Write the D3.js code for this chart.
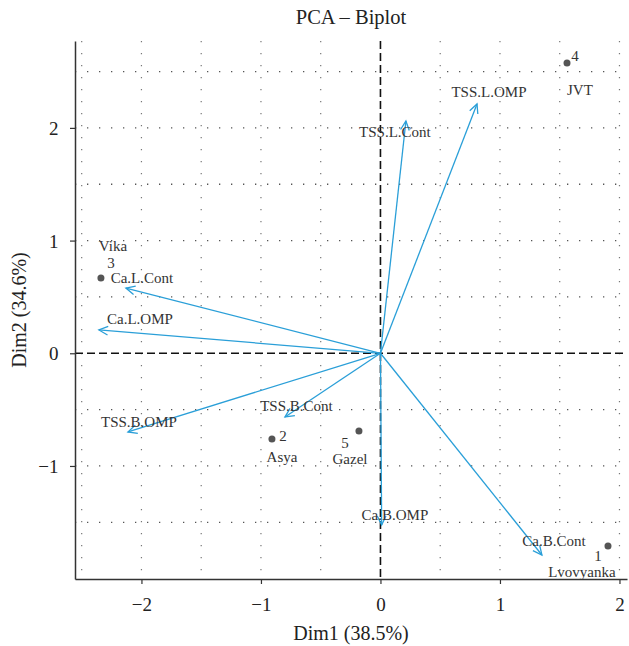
<!DOCTYPE html>
<html>
<head>
<meta charset="utf-8">
<script src="https://cdn.jsdelivr.net/npm/d3@7"></script>
<style>
  body { margin: 0; background: #fff; }
  text { font-family: "Liberation Serif", "DejaVu Serif", serif; }
</style>
</head>
<body>
<div id="chart"></div>
<script>
// individuals (scores)
const indIds = ["1", "2", "3", "4", "5"];
const indNames = ["Lvovyanka", "Asya", "Vika", "JVT", "Gazel"];
const indX = [1.904, -0.908, -2.339, 1.561, -0.180];
const indY = [-1.710, -0.760, 0.668, 2.576, -0.689];
// label spots (data units) for the number and the name
const idLabX = [1.820, -0.816, -2.255, 1.628, -0.297];
const idLabY = [-1.800, -0.734, 0.800, 2.638, -0.796];
const nameLabX = [1.686, -0.824, -2.238, 1.669, -0.255];
const nameLabY = [-1.940, -0.920, 0.955, 2.335, -0.939];

// variables (loadings)
const varNames = ["TSS.L.Cont", "TSS.L.OMP", "Ca.L.Cont", "Ca.L.OMP",
                  "TSS.B.OMP", "TSS.B.Cont", "Ca.B.OMP", "Ca.B.Cont"];
const varX = [0.213, 0.808, -2.130, -2.356, -2.113, -0.799, 0.010, 1.351];
const varY = [2.061, 2.212, 0.579, 0.207, -0.698, -0.565, -1.523, -1.790];
const varLabX = [0.121, 0.908, -1.996, -2.013, -2.021, -0.703, 0.121, 1.452];
const varLabY = [1.963, 2.318, 0.672, 0.304, -0.610, -0.468, -1.435, -1.665];

const xTicks = [-2, -1, 0, 1, 2];
const yTicks = [-1, 0, 1, 2];
const gridX = [-2.5, -2, -1.5, -1, -0.5, 0.5, 1, 1.5, 2];
const gridY = [-1.5, -1, -0.5, 0.5, 1, 1.5, 2, 2.5];

const margin = { top: 41, right: 2, bottom: 67, left: 75 },
    width = 629 - margin.left - margin.right,
    height = 646 - margin.top - margin.bottom;

const svg = d3.select("#chart")
    .append("svg")
    .attr("width", 629)
    .attr("height", 646);

const g = svg.append("g")
    .attr("transform", "translate(" + margin.left + "," + margin.top + ")");

const x = d3.scaleLinear().domain([-2.556, 2.063]).range([0, width]);
const y = d3.scaleLinear().domain([-2.003, 2.771]).range([height, 0]);

// dotted grid
g.selectAll(".gx").data(gridX).enter().append("line")
    .attr("x1", d => x(d)).attr("x2", d => x(d))
    .attr("y1", 0).attr("y2", height)
    .attr("stroke", "#777").attr("stroke-width", 1.2)
    .attr("stroke-dasharray", "1.2,10.8");
g.selectAll(".gy").data(gridY).enter().append("line")
    .attr("x1", 0).attr("x2", width)
    .attr("y1", d => y(d)).attr("y2", d => y(d))
    .attr("stroke", "#555").attr("stroke-width", 1.3)
    .attr("stroke-dasharray", "1.3,10.7");

// dashed origin lines
g.append("line")
    .attr("x1", x(0)).attr("x2", x(0)).attr("y1", 0).attr("y2", height)
    .attr("stroke", "#111").attr("stroke-width", 1.6)
    .attr("stroke-dasharray", "8,4");
g.append("line")
    .attr("x1", 0).attr("x2", width).attr("y1", y(0)).attr("y2", y(0))
    .attr("stroke", "#111").attr("stroke-width", 1.6)
    .attr("stroke-dasharray", "8,4");

// axes
const xAxis = g.append("g")
    .attr("transform", "translate(0," + height + ")")
    .call(d3.axisBottom(x).tickValues(xTicks).tickSize(5).tickSizeOuter(0)
        .tickFormat(d => d < 0 ? "\u2212" + Math.abs(d) : d));
const yAxis = g.append("g")
    .call(d3.axisLeft(y).tickValues(yTicks).tickSize(5).tickSizeOuter(0)
        .tickFormat(d => d < 0 ? "\u2212" + Math.abs(d) : d));
[xAxis, yAxis].forEach(a => {
    a.select(".domain").attr("stroke", "#333").attr("stroke-width", 1.5);
    a.selectAll(".tick line").attr("stroke", "#333").attr("stroke-width", 1.2);
    a.selectAll(".tick text")
        .attr("fill", "#222")
        .style("font-size", "19px")
        .style("font-family", "'Liberation Serif', serif");
});
xAxis.selectAll(".tick text").attr("dy", "1.25em");
yAxis.selectAll(".tick text").attr("dx", "-0.45em").attr("dy", "0.35em");

// arrows
const blue = "#2a9fd8";
varNames.forEach((name, i) => {
    const x1 = x(0), y1 = y(0), x2 = x(varX[i]), y2 = y(varY[i]);
    const ang = Math.atan2(y2 - y1, x2 - x1);
    const L = 10, a = Math.PI / 7;
    g.append("line")
        .attr("x1", x1).attr("y1", y1).attr("x2", x2).attr("y2", y2)
        .attr("stroke", blue).attr("stroke-width", 1.3);
    g.append("path")
        .attr("d", "M" + (x2 - L * Math.cos(ang - a)) + "," + (y2 - L * Math.sin(ang - a)) +
            "L" + x2 + "," + y2 +
            "L" + (x2 - L * Math.cos(ang + a)) + "," + (y2 - L * Math.sin(ang + a)))
        .attr("fill", "none").attr("stroke", blue).attr("stroke-width", 1.3);
    g.append("text")
        .attr("x", x(varLabX[i])).attr("y", y(varLabY[i]))
        .attr("text-anchor", "middle")
        .attr("dominant-baseline", "central")
        .attr("fill", "#333")
        .style("font-size", "15px")
        .text(name);
});

// points
indIds.forEach((id, i) => {
    g.append("circle")
        .attr("cx", x(indX[i])).attr("cy", y(indY[i]))
        .attr("r", 3.5).attr("fill", "#555");
    g.append("text")
        .attr("x", x(idLabX[i])).attr("y", y(idLabY[i]))
        .attr("text-anchor", "middle").attr("dominant-baseline", "central")
        .attr("fill", "#333").style("font-size", "15px")
        .text(id);
    g.append("text")
        .attr("x", x(nameLabX[i])).attr("y", y(nameLabY[i]))
        .attr("text-anchor", "middle").attr("dominant-baseline", "central")
        .attr("fill", "#333").style("font-size", "15px")
        .text(indNames[i]);
});

// titles
svg.append("text")
    .attr("x", margin.left + width / 2).attr("y", 24)
    .attr("text-anchor", "middle")
    .attr("fill", "#222")
    .style("font-size", "20.5px")
    .text("PCA \u2013 Biplot");
svg.append("text")
    .attr("x", margin.left + width / 2).attr("y", 640)
    .attr("text-anchor", "middle")
    .attr("fill", "#222")
    .style("font-size", "20px")
    .text("Dim1 (38.5%)");
svg.append("text")
    .attr("transform", "translate(26," + (margin.top + height / 2) + ") rotate(-90)")
    .attr("text-anchor", "middle")
    .attr("fill", "#222")
    .style("font-size", "20px")
    .text("Dim2 (34.6%)");
</script>
</body>
</html>
